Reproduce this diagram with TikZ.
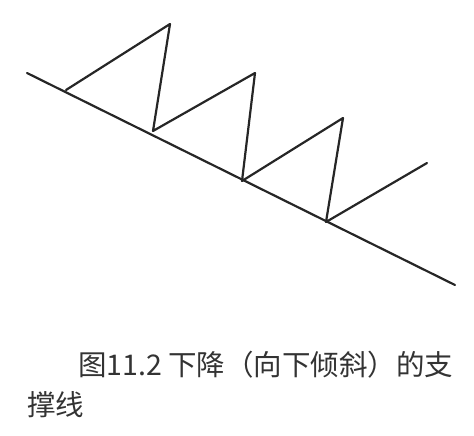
\documentclass[tikz,border=0pt]{standalone}
\usepackage{fontspec}
\newfontfamily\cjk{Noto Sans CJK SC}
\usetikzlibrary{positioning}

\begin{document}
\begin{tikzpicture}[x=1pt, y=-1pt, line cap=round, line join=round]
	\tikzset{
		support/.style={line width=2.2pt, black!85},
		price/.style={line width=2.2pt, black!85},
		caption/.style={font=\cjk\fontsize{28.5}{34}\selectfont, text=black!80, inner sep=0pt, anchor=base west}
	}
	
	\useasboundingbox (0,0) rectangle (474,436);
	
	% support line
	\coordinate (s0) at (27,73);
	\coordinate (s1) at (455,285);
	\draw[support] (s0) -- (s1);
	
	% price zigzag
	\draw[price] (66,90) -- (170,24) -- (153,131) -- (255,73) -- (242,181)
		-- (343,118) -- (326,222) -- (427,163);
	
	\node[caption] (cap1) at (78,375) {图11.2 下降（向下倾斜）的支};
	\node[caption] (cap2) at (27,415) {撑线};
	
\end{tikzpicture}
\end{document}
